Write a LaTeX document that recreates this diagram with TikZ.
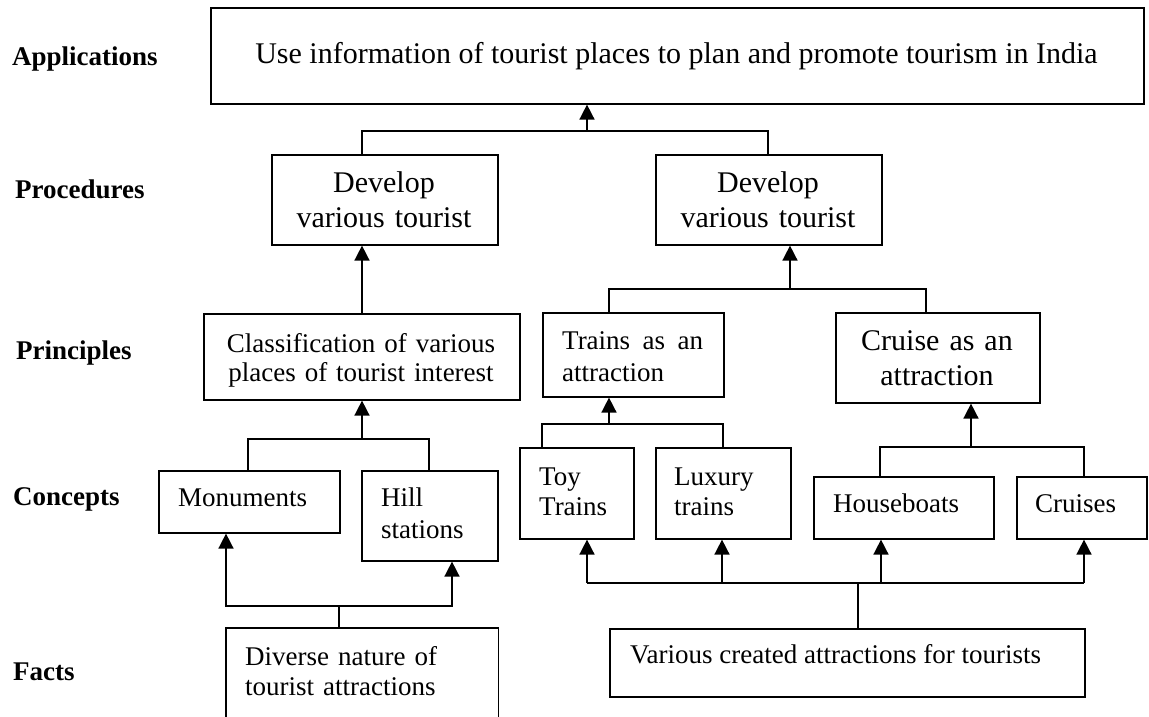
\documentclass[tikz,border=0pt]{standalone}
\usepackage{fontspec}
\setmainfont{Liberation Serif}
\usetikzlibrary{arrows.meta}
\newcommand\myfa{\fontsize{27}{30}\selectfont}
\newcommand\myfb{\fontsize{30}{35}\selectfont}
\newcommand\myfc{\fontsize{27}{32}\selectfont}
\newcommand\myfd{\fontsize{27}{29}\selectfont}
\begin{document}
\begin{tikzpicture}[x=1pt,y=-1pt,
  box/.style={draw, line width=1.6pt, anchor=north west, inner sep=0pt},
  sz/.style 2 args={minimum width=#1pt, minimum height=#2pt},
  lbl/.style={anchor=base west, inner sep=0pt, font=\myfa\bfseries},
  txt/.style={inner sep=0pt, font=\myfa},
  conn/.style={line width=1.6pt},
  arr/.style={conn, -{Triangle[width=15pt,length=15pt]}}]
\useasboundingbox (0,0) rectangle (1149,716);

% level labels
\node[lbl] (lapp) at (12,65) {Applications};
\node[lbl] (lproc) at (15,198) {Procedures};
\node[lbl] (lprin) at (16,359) {Principles};
\node[lbl] (lcon) at (13,505) {Concepts};
\node[lbl] (lfac) at (13,680) {Facts};

% boxes
\node[box, sz={933}{96}] (app) at (210,7) {};
\node[box, sz={226}{90}] (proc1) at (271,154) {};
\node[box, sz={226}{90}] (proc2) at (655,154) {};
\node[box, sz={316}{86}] (cls) at (203,313) {};
\node[box, sz={181}{84}] (trains) at (542,312) {};
\node[box, sz={204}{90}] (cruise) at (835,312) {};
\node[box, sz={181}{62}] (mon) at (158,470) {};
\node[box, sz={136}{90}] (hill) at (361,470) {};
\node[box, sz={114}{91}] (toy) at (519,447) {};
\node[box, sz={135}{91}] (lux) at (655,447) {};
\node[box, sz={180}{62}] (house) at (813,476) {};
\node[box, sz={130}{62}] (cruises) at (1016,476) {};
\node[box, draw=none, sz={271}{88}] (diverse) at (226,628) {};
\draw[conn] (diverse.south west) -- (diverse.north west) -- (diverse.north east) -- (diverse.south east);
\node[box, sz={475}{68}] (various) at (609,628) {};

% texts
\node[txt, font=\myfb, anchor=base] (appt) at (676.5,63) {Use information of tourist places to plan and promote tourism in India};
\node[txt, font=\myfb, anchor=base, text width=210pt, align=center] (proc1t) at (384,192) {Develop\\various tourist};
\node[txt, font=\myfb, anchor=base, text width=210pt, align=center] (proc2t) at (768,192) {Develop\\various tourist};
\node[txt, font=\myfd, anchor=base, text width=300pt, align=center] (clst) at (361,352) {Classification of various\\places of tourist interest};
\node[txt, font=\myfc, anchor=base west, text width=141pt, align=left] (trainst) at (562,349) {Trains\hfill as\hfill an\\attraction};
\node[txt, font=\myfb, anchor=base, text width=200pt, align=center] (cruiset) at (937,350) {Cruise as an\\attraction};
\node[txt, anchor=base west] (mont) at (178,506) {Monuments};
\node[txt, font=\myfc, anchor=base west, text width=110pt, align=left] (hillt) at (381,506) {Hill\\stations};
\node[txt, anchor=base west, text width=90pt, align=left] (toyt) at (539,485) {Toy\\Trains};
\node[txt, anchor=base west, text width=110pt, align=left] (luxt) at (674,485) {Luxury\\trains};
\node[txt, anchor=base west] (houset) at (833,512) {Houseboats};
\node[txt, anchor=base west] (cruisest) at (1035,512) {Cruises};
\node[txt, anchor=base west, text width=250pt, align=left] (divt) at (245,665) {Diverse nature of\\tourist attractions};
\node[txt, anchor=base west] (vart) at (630,663) {Various created attractions for tourists};

% procedures -> application
\coordinate (ta) at (362,131); \coordinate (tb) at (768,131); \coordinate (tc) at (587,131);
\draw[conn] (proc1.north -| ta) -- (ta) -- (tb) -- (proc2.north -| tb);
\draw[arr] (tc) -- (app.south -| tc);

% classification -> procedure 1
\draw[arr] (cls.north -| ta) -- (proc1.south -| ta);

% monuments / hill -> classification
\coordinate (ma) at (248,439); \coordinate (mb) at (429,439); \coordinate (mc) at (362,439);
\draw[conn] (mon.north -| ma) -- (ma) -- (mb) -- (hill.north -| mb);
\draw[arr] (mc) -- (cls.south -| mc);

% trains / cruise -> procedure 2
\coordinate (ra) at (609,289); \coordinate (rb) at (926,289); \coordinate (rc) at (790,289);
\draw[conn] (trains.north -| ra) -- (ra) -- (rb) -- (cruise.north -| rb);
\draw[arr] (rc) -- (proc2.south -| rc);

% toy / luxury -> trains
\coordinate (sa) at (542,424); \coordinate (sb) at (723,424); \coordinate (sc) at (609,424);
\draw[conn] (toy.north -| sa) -- (sa) -- (sb) -- (lux.north -| sb);
\draw[arr] (sc) -- (trains.south -| sc);

% houseboats / cruises -> cruise
\coordinate (ua) at (880,447); \coordinate (ub) at (1084,447); \coordinate (uc) at (971,447);
\draw[conn] (house.north -| ua) -- (ua) -- (ub) -- (cruises.north -| ub);
\draw[arr] (uc) -- (cruise.south -| uc);

% diverse -> monuments / hill
\coordinate (da) at (226,606); \coordinate (db) at (452,606); \coordinate (dc) at (339,606);
\draw[conn] (diverse.north -| dc) -- (dc);
\draw[arr] (dc) -- (da) -- (mon.south -| da);
\draw[arr] (dc) -- (db) -- (hill.south -| db);

% various -> toy / luxury / houseboats / cruises
\coordinate (va) at (587,583); \coordinate (vb) at (722,583); \coordinate (vc) at (881,583);
\coordinate (vd) at (1084,583); \coordinate (ve) at (858,583);
\draw[conn] (various.north -| ve) -- (ve);
\draw[conn] (va) -- (vd);
\draw[arr] (va) -- (toy.south -| va);
\draw[arr] (vb) -- (lux.south -| vb);
\draw[arr] (vc) -- (house.south -| vc);
\draw[arr] (vd) -- (cruises.south -| vd);
\end{tikzpicture}
\end{document}
